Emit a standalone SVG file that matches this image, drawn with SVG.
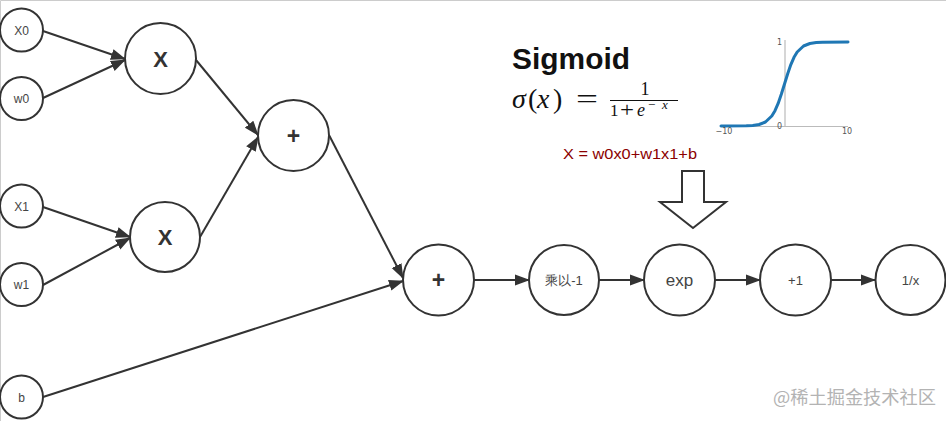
<svg xmlns="http://www.w3.org/2000/svg" width="946" height="421" viewBox="0 0 946 421">
<style>
.n{fill:#fff;stroke:#333;stroke-width:2}
.t{font-family:"Liberation Sans",Arial,sans-serif;fill:#444;text-anchor:middle}
.s{font-size:12px}
.b{font-weight:bold;fill:#333}
.e{stroke:#333;stroke-width:2;fill:none;marker-end:url(#arr)}
.m{font-family:"Liberation Serif","Times New Roman",serif;fill:#111}
.ax{font-family:"DejaVu Sans",sans-serif;font-size:8px;fill:#555}
</style>
<defs>
<marker id="arr" markerWidth="15" markerHeight="12" refX="14" refY="6" orient="auto" markerUnits="userSpaceOnUse">
<path d="M0,0.5 L15,6 L0,11.5 z" fill="#333"/>
</marker>
</defs>
<rect width="946" height="421" fill="#fff"/>
<path d="M0.5,421 V0.5 H946" stroke="#ccc" stroke-width="1" fill="none"/>
<g id="connectors">
<line class="e" x1="43" y1="31" x2="125" y2="59"/>
<line class="e" x1="43" y1="98" x2="125" y2="60"/>
<line class="e" x1="43" y1="207" x2="130" y2="237"/>
<line class="e" x1="43" y1="285" x2="130" y2="238"/>
<line class="e" x1="196" y1="60" x2="258" y2="135"/>
<line class="e" x1="200" y1="237" x2="258" y2="137"/>
<line class="e" x1="329" y1="135" x2="403" y2="278"/>
<line class="e" x1="43" y1="397" x2="403" y2="281"/>
<line class="e" x1="474" y1="280" x2="529" y2="280"/>
<line class="e" x1="599" y1="280" x2="644" y2="280"/>
<line class="e" x1="715" y1="280" x2="760" y2="280"/>
<line class="e" x1="831" y1="280" x2="875" y2="280"/>
</g>
<g id="x0"><circle class="n" cx="21.5" cy="30" r="21.5"/><text class="t s" x="21.5" y="34.5">X0</text></g>
<g id="w0"><circle class="n" cx="21.5" cy="98.5" r="21.5"/><text class="t s" x="21.5" y="103">w0</text></g>
<g id="x1"><circle class="n" cx="21.5" cy="206" r="21.5"/><text class="t s" x="21.5" y="210.5">X1</text></g>
<g id="w1"><circle class="n" cx="21.5" cy="284.5" r="21.5"/><text class="t s" x="21.5" y="289">w1</text></g>
<g id="b"><circle class="n" cx="21.5" cy="397" r="21.5"/><text class="t s" x="21.5" y="401.5">b</text></g>
<g id="mul0"><circle class="n" cx="160.5" cy="58.5" r="35.5"/><text class="t b" x="160.5" y="66.5" font-size="22">X</text></g>
<g id="mul1"><circle class="n" cx="165" cy="237" r="35"/><text class="t b" x="165" y="245" font-size="22">X</text></g>
<g id="add0"><circle class="n" cx="293.5" cy="135.5" r="35.5"/><text class="t b" x="293.5" y="143.5" font-size="23">+</text></g>
<g id="add1"><circle class="n" cx="438.5" cy="280" r="35.5"/><text class="t b" x="438.5" y="288" font-size="23">+</text></g>
<g id="neg"><circle class="n" cx="564" cy="280" r="35"/><text class="t" x="564" y="284.5" font-size="13" font-family="'Liberation Sans','Noto Sans CJK SC',sans-serif">乘以-1</text></g>
<g id="exp"><circle class="n" cx="679.5" cy="280" r="35.5"/><text class="t" x="679.5" y="286" font-size="17" fill="#333">exp</text></g>
<g id="plus1"><circle class="n" cx="795.5" cy="280" r="35.5"/><text class="t" x="795.5" y="284.5" font-size="13">+1</text></g>
<g id="recip"><circle class="n" cx="910.5" cy="280" r="35"/><text class="t" x="910.5" y="284.5" font-size="13">1/x</text></g>
<g id="downarrow"><polygon points="682,171 704,171 704,202 726,202 693,228 660,202 682,202" fill="#fff" stroke="#333" stroke-width="2" stroke-linejoin="miter"/></g>
<g id="title">
<text x="512" y="69" font-family="'Liberation Sans',Arial,sans-serif" font-weight="bold" font-size="29" fill="#111" textLength="118" lengthAdjust="spacingAndGlyphs">Sigmoid</text>
<text class="m" x="512" y="108" font-size="28" font-style="italic">σ</text>
<text class="m" x="528" y="108" font-size="28">(</text>
<text class="m" x="537" y="108" font-size="28" font-style="italic">x</text>
<text class="m" x="553" y="108" font-size="28">)</text>
<text class="m" x="576" y="108" font-size="28" textLength="22" lengthAdjust="spacingAndGlyphs">=</text>
<text class="m" x="645" y="95" font-size="18" text-anchor="middle">1</text>
<line x1="610" y1="100.5" x2="678" y2="100.5" stroke="#111" stroke-width="1.2"/>
<text class="m" x="610" y="116" font-size="17">1</text>
<text class="m" x="620" y="117" font-size="20" textLength="14" lengthAdjust="spacingAndGlyphs">+</text>
<text class="m" x="637" y="116" font-size="18" font-style="italic">e</text>
<text class="m" x="648" y="109" font-size="13">−</text>
<text class="m" x="662" y="109" font-size="13" font-style="italic">x</text>
</g>
<g id="formula">
<text x="563" y="159" font-family="'Liberation Sans',Arial,sans-serif" font-size="14" fill="#8b0000" textLength="134" lengthAdjust="spacingAndGlyphs">X = w0x0+w1x1+b</text>
</g>
<g id="chart">
<line x1="785" y1="40" x2="785" y2="127" stroke="#bbb" stroke-width="1.2"/>
<line x1="721" y1="126.5" x2="848" y2="126.5" stroke="#bbb" stroke-width="1.2"/>
<polyline points="721,126 746.4,125.8 752.75,125.4 759.1,124.5 765.45,122 771.8,116 775,110.7 778.15,103.4 781.3,94.3 784.5,84 787.7,73.7 790.85,64.6 794,57.3 797.2,52 803.55,46 809.9,43.5 816.25,42.6 822.6,42.2 848,42" fill="none" stroke="#1f77b4" stroke-width="3" stroke-linejoin="round" stroke-linecap="round"/>
<text class="ax" x="782" y="45" text-anchor="end">1</text>
<text class="ax" x="782" y="129" text-anchor="end">0</text>
<text class="ax" x="724" y="134" text-anchor="middle">−10</text>
<text class="ax" x="847" y="134" text-anchor="middle">10</text>
</g>
<text x="773" y="404" font-family="'Noto Sans CJK SC',sans-serif" font-size="18" fill="#b3b3b3" textLength="163" lengthAdjust="spacingAndGlyphs">@稀土掘金技术社区</text>
</svg>
